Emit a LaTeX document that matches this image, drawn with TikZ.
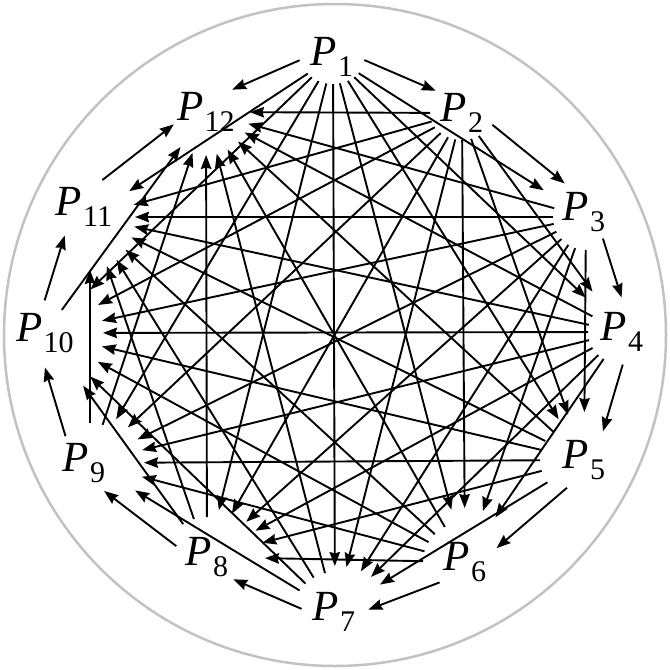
\documentclass[tikz,border=0pt]{standalone}
\usepackage{fontspec}
\setmainfont{Liberation Serif}
\usetikzlibrary{arrows.meta,calc,shapes.geometric}
\newcommand{\vlab}[1]{\textit{P}\kern1pt\raisebox{-0.24em}{\fontsize{30}{32}\selectfont #1}}
\begin{document}
\begin{tikzpicture}[x=1pt,y=-1pt,
  lbl/.style={inner sep=0pt, font=\fontsize{43}{50}\selectfont},
  port/.style={ellipse, draw=none, inner sep=0pt, outer sep=0pt},
  edge/.style={-{Stealth[length=14pt,width=10.5pt,inset=1.5pt]}, line width=1.9pt},
]
\useasboundingbox (0,0) rectangle (670,670);
\draw[black!24, line width=2.5pt] (335,335) circle[radius=331];
% label position, port centre, in-port half axes, out-port half axes
\foreach \k/\x/\y/\px/\py/\ia/\ib/\oa/\ob in {1/332/57/333/57/40/40/32/27,
  2/462/113/462/113/40/40/32/27, 3/584/212/586/217/50/50/33/33,
  4/622/332/622/332/50/50/34/32, 5/584/460/584/460/48/48/44/40,
  6/465/562/465/562/54/54/42/40, 7/334/612/335/612/56/46/42/40,
  8/207/557/207/557/58/48/42/40, 9/84/463/90/463/54/50/42/40,
  10/45/333/45/333/58/70/30/28, 11/84/207/90/217/45/53/32/30,
  12/206/112/206/112/44/43/32/30}{
  \node[lbl] (L\k) at (\x,\y) {\vlab{\k}};
  \node[port, minimum width=2*\ia, minimum height=2*\ib] (i\k) at (\px,\py) {};
  \node[port, minimum width=2*\oa, minimum height=2*\ob] (o\k) at (\px,\py) {};
}
\foreach \i in {1,...,10}{
  \pgfmathtruncatemacro{\jst}{\i+2}
  \foreach \j in {\jst,...,12}{
    \pgfmathtruncatemacro{\skp}{(\i==1)&&(\j==12)}
    \ifnum\skp=0 \draw[edge] (o\i) -- (i\j); \fi
  }
}
\foreach \a/\b/\r/\q in {1/2/90/-90, 2/3/90/-90, 3/4/90/-90, 4/5/90/-90, 5/6/90/-90,
  6/7/90/-90, 7/8/90/-90, 8/9/90/-90, 9/10/90/-90, 10/11/90/-90, 11/12/90/-90, 1/12/-90/90}{
  \draw[edge, shorten <=31pt, shorten >=33pt] ($(L\a)!10pt!\r:(L\b)$) -- ($(L\b)!10pt!\q:(L\a)$);
}
\end{tikzpicture}
\end{document}
